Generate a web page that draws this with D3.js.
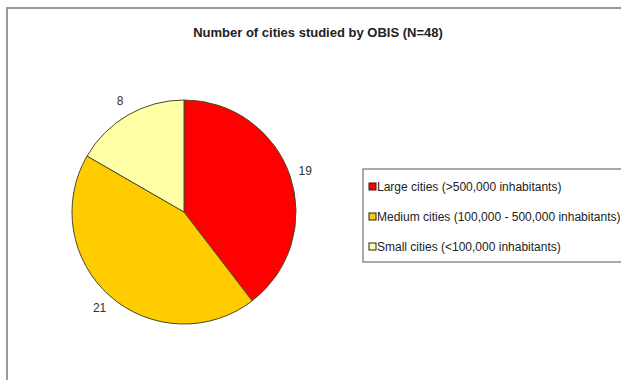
<!DOCTYPE html>
<html>
<head>
<meta charset="utf-8">
<script src="https://cdn.jsdelivr.net/npm/d3@7"></script>
<style>
  body { margin: 0; background: #fff; }
  svg { display: block; font-family: "Liberation Sans", Arial, sans-serif; }
</style>
</head>
<body>
<svg class="chart"></svg>
<script>
// city counts
var categories = ['Large cities (>500,000 inhabitants)', 'Medium cities (100,000 - 500,000 inhabitants)', 'Small cities (<100,000 inhabitants)'];
var values = [19, 21, 8];
var colors = ['#ff0000', '#ffcc00', '#ffffa6'];
var title = 'Number of cities studied by OBIS (N=48)';

var width = 621, height = 380;
var radius = 112;
var cx = 184, cy = 212;

const svg = d3.select('svg.chart').attr('width', width).attr('height', height);

// outer frame, runs off the right and bottom edges
svg.append('rect')
  .attr('x', 7).attr('y', 8)
  .attr('width', 640).attr('height', 400)
  .attr('fill', 'none')
  .attr('stroke', '#9a9a9a')
  .attr('stroke-width', 2);

svg.append('text')
  .attr('x', 318).attr('y', 37)
  .attr('text-anchor', 'middle')
  .attr('font-size', 13)
  .attr('font-weight', 'bold')
  .attr('fill', '#222')
  .text(title);

var data = categories.map((c, i) => ({name: c, val: values[i], color: colors[i]}));
const pie = d3.pie().value(d => d.val).sort(null);
const slices = pie(data);
const arc = d3.arc().innerRadius(0).outerRadius(radius);
const labelArc = d3.arc().innerRadius(radius + 16).outerRadius(radius + 16);

let g = svg.append('g').attr('transform', 'translate(' + cx + ',' + cy + ')');

g.selectAll('path.slice')
  .data(slices)
  .enter()
  .append('path')
  .attr('class', 'slice')
  .attr('d', arc)
  .attr('fill', d => d.data.color)
  .attr('stroke', '#4a4a2a')
  .attr('stroke-width', 1);

g.selectAll('text.lbl')
  .data(slices)
  .enter()
  .append('text')
  .attr('class', 'lbl')
  .attr('transform', d => 'translate(' + labelArc.centroid(d) + ')')
  .attr('text-anchor', 'middle')
  .attr('dy', '0.35em')
  .attr('font-size', 12)
  .attr('fill', '#333')
  .text(d => d.data.val);

// legend box
var legend = svg.append('g').attr('transform', 'translate(363,169)');
legend.append('rect')
  .attr('width', 270).attr('height', 93)
  .attr('fill', '#fff')
  .attr('stroke', '#555')
  .attr('stroke-width', 1);

var rowY = d3.scalePoint().domain(categories).range([18, 78]);

var items = legend.selectAll('g.item')
  .data(data)
  .enter()
  .append('g')
  .attr('class', 'item')
  .attr('transform', d => 'translate(6,' + rowY(d.name) + ')');

items.append('rect')
  .attr('x', 0).attr('y', -4)
  .attr('width', 7).attr('height', 7)
  .attr('fill', d => d.color)
  .attr('stroke', '#222')
  .attr('stroke-width', 1);

items.append('text')
  .attr('x', 8).attr('y', 0)
  .attr('dy', '0.35em')
  .attr('font-size', 12)
  .attr('fill', '#222')
  .text(d => d.name);
</script>
</body>
</html>
